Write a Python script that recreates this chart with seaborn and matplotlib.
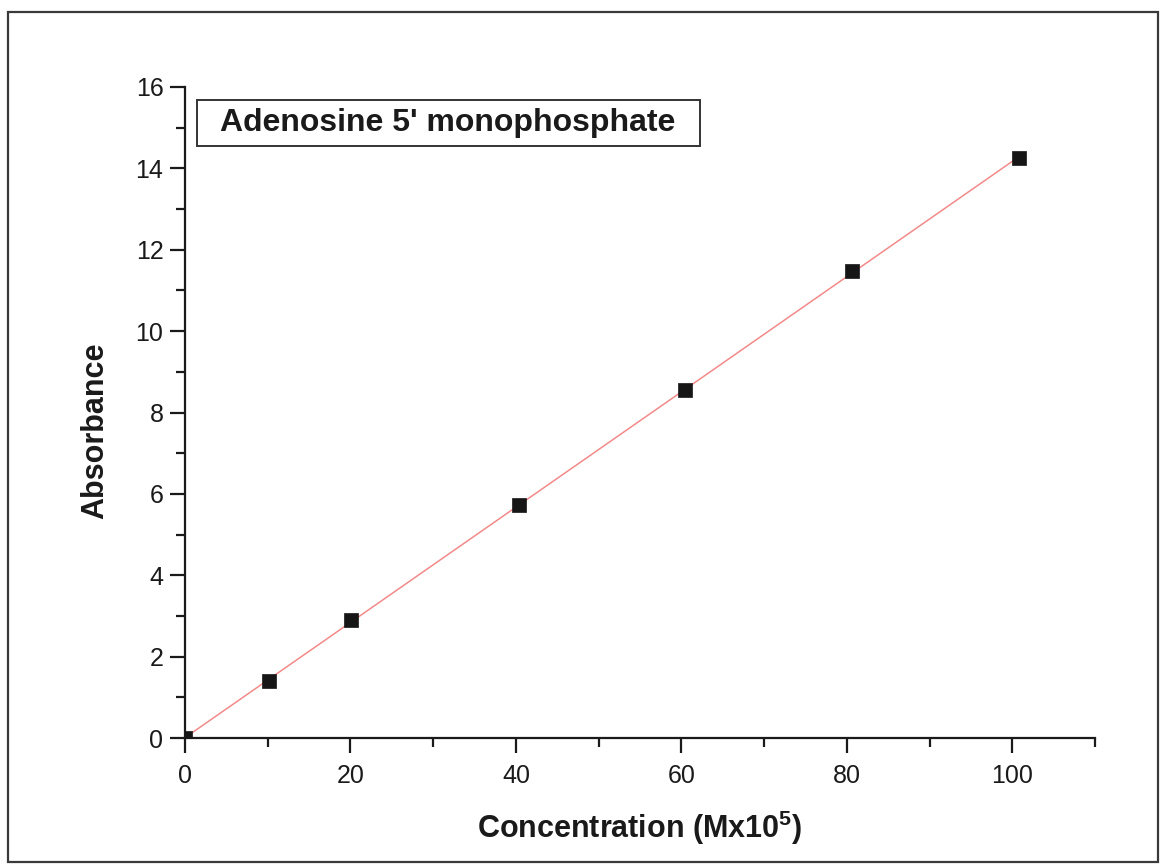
import numpy as np
import pandas as pd
import matplotlib
matplotlib.use("Agg")
import matplotlib.pyplot as plt
from matplotlib.patches import Rectangle
from matplotlib.ticker import MultipleLocator
import seaborn as sns

# Calibration data: AMP concentration vs absorbance
concentration = [0, 10.1, 20.1, 40.4, 60.4, 80.6, 100.8]
absorbance = [0.0, 1.40, 2.90, 5.73, 8.55, 11.47, 14.25]
x_ticks = [0, 20, 40, 60, 80, 100]
y_ticks = [0, 2, 4, 6, 8, 10, 12, 14, 16]
title_text = "Adenosine 5' monophosphate"

df = pd.DataFrame({"conc": concentration, "abs": absorbance})

sns.set_theme(style="ticks")
plt.rcParams["font.family"] = ["Liberation Sans", "DejaVu Sans"]
plt.rcParams["mathtext.fontset"] = "custom"
plt.rcParams["mathtext.bf"] = "Liberation Sans:bold"
plt.rcParams["mathtext.rm"] = "Liberation Sans:bold"

fig = plt.figure(figsize=(11.62, 8.66), dpi=100)
fig.patch.set_facecolor("white")
ax = fig.add_axes([185 / 1162, 128 / 866, 910 / 1162, 651 / 866])
ax.set_facecolor("white")

# linear fit through the points
sns.regplot(data=df, x="conc", y="abs", ci=None, scatter=False, ax=ax,
            line_kws=dict(color="#f28a8a", lw=1.1, zorder=2))
sns.scatterplot(data=df, x="conc", y="abs", ax=ax, marker="s", s=115,
                color="#161616", edgecolor="#161616", linewidth=0.5, zorder=3)

ax.set_xlim(0, 110)
ax.set_ylim(0, 16)
ax.set_xticks(x_ticks)
ax.set_yticks(y_ticks)
ax.xaxis.set_minor_locator(MultipleLocator(10))
ax.yaxis.set_minor_locator(MultipleLocator(1))

for side in ("top", "right"):
    ax.spines[side].set_visible(False)
for side in ("left", "bottom"):
    ax.spines[side].set_linewidth(1.6)
    ax.spines[side].set_color("#1a1a1a")

ax.tick_params(axis="both", which="major", length=10.5, width=1.6,
               color="#1a1a1a", labelsize=18, labelcolor="#1a1a1a")
ax.tick_params(axis="both", which="minor", length=6.5, width=1.6, color="#1a1a1a")
ax.tick_params(axis="x", which="major", pad=8)
ax.tick_params(axis="y", which="major", pad=5)

ax.set_xlabel("Concentration (Mx10$^{\\mathbf{5}}$)", fontsize=22,
              fontweight="bold", color="#1a1a1a")
ax.set_ylabel("Absorbance", fontsize=22, fontweight="bold", color="#1a1a1a")
ax.xaxis.set_label_coords(0.5, -0.108)
ax.yaxis.set_label_coords(-0.082, 0.472)

# boxed title inside the plot area
ax.add_patch(Rectangle((12 / 910, 592 / 651), 503 / 910, 46 / 651,
                       transform=ax.transAxes, facecolor="white",
                       edgecolor="#333333", linewidth=1.4, zorder=4))
ax.text(0.2884, 0.9447, title_text, transform=ax.transAxes, fontsize=23,
        fontweight="bold", color="#1a1a1a", ha="center", va="center",
        zorder=5)

# outer frame around the figure
fig.patches.append(Rectangle((8 / 1162, 4 / 866), 1150 / 1162, 850 / 866,
                             transform=fig.transFigure, fill=False,
                             edgecolor="#3a3a3a", linewidth=1.6))

fig.savefig("out.png", dpi=100, facecolor="white")
